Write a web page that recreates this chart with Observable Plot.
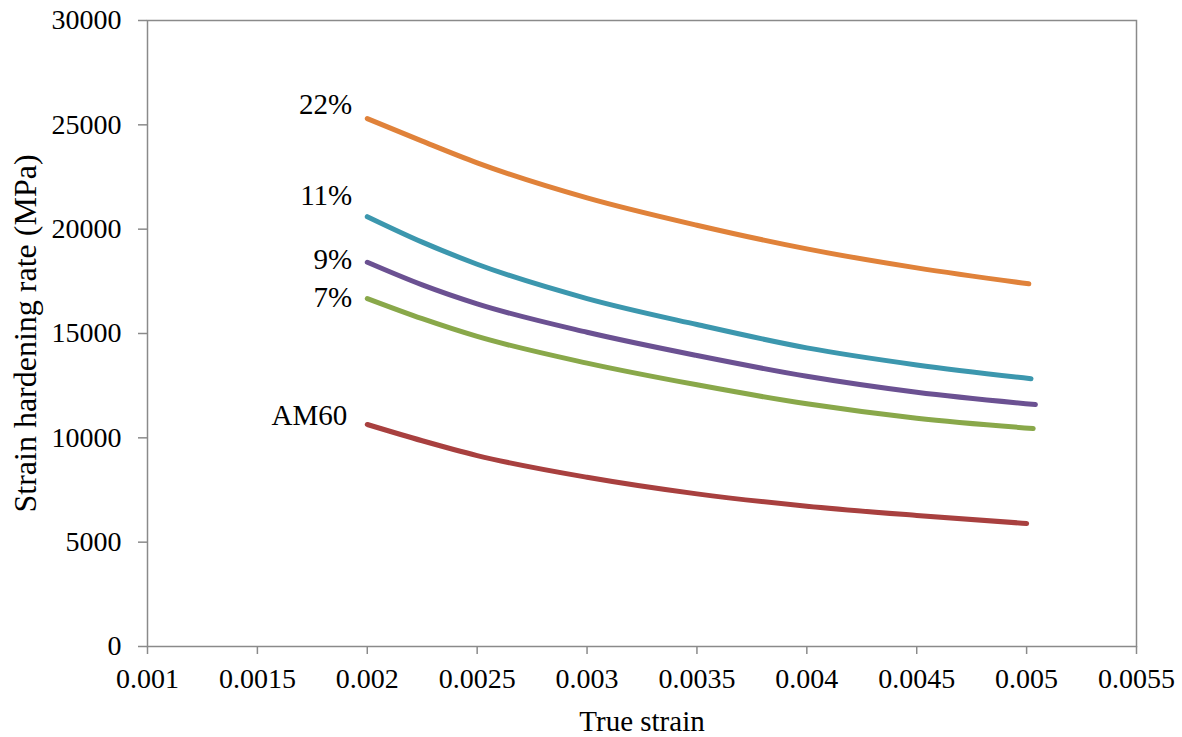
<!DOCTYPE html>
<html>
<head>
<meta charset="utf-8">
<script src="https://cdn.jsdelivr.net/npm/d3@7"></script>
<script src="https://cdn.jsdelivr.net/npm/@observablehq/plot@0.6"></script>
<style>
  html, body { margin: 0; padding: 0; background: #fff; }
  #chart svg { display: block; }
  #chart svg, #chart svg text { font-family: "Liberation Serif", "Times New Roman", serif !important; }
</style>
</head>
<body>
<div id="chart"></div>
<script>
// Strain hardening rate vs. true strain for AM60 and composites
const series = ["22%", "11%", "9%", "7%", "AM60"];
const seriesColors = ["#e0823a", "#3c97ae", "#6b5192", "#89a84a", "#a8403f"];

// sampled strains (shared), plus last strain of each curve
const strainPts = [0.002, 0.00225, 0.0025, 0.003, 0.0035, 0.004, 0.0045];
const finalStrain = [0.00501, 0.00502, 0.00504, 0.00503, 0.005];

// strain hardening rate (MPa) at strainPts, then at finalStrain
const rate22 = [25300, 24220, 23180, 21500, 20190, 19055, 18145, 17380];
const rate11 = [20600, 19380, 18320, 16675, 15430, 14310, 13495, 12830];
const rate9 = [18415, 17330, 16420, 15060, 13945, 12950, 12185, 11595];
const rate7 = [16675, 15710, 14860, 13580, 12540, 11630, 10940, 10445];
const rateAM60 = [10640, 9860, 9150, 8110, 7315, 6725, 6280, 5895];

const xTicks = [0.001, 0.0015, 0.002, 0.0025, 0.003, 0.0035, 0.004, 0.0045, 0.005, 0.0055];
const xTickLabels = ["0.001", "0.0015", "0.002", "0.0025", "0.003", "0.0035", "0.004", "0.0045", "0.005", "0.0055"];
const yTicks = [0, 5000, 10000, 15000, 20000, 25000, 30000];
const yTickLabels = ["0", "5000", "10000", "15000", "20000", "25000", "30000"];
const xTitle = "True strain";
const yTitle = "Strain hardening rate (MPa)";

const rates = [rate22, rate11, rate9, rate7, rateAM60];
const rows = [];
series.forEach((name, i) => {
  const xs = strainPts.concat([finalStrain[i]]);
  rates[i].forEach((v, j) => rows.push({series: name, strain: xs[j], rate: v}));
});
const starts = series.map((name, i) => ({series: name, strain: strainPts[0], rate: rates[i][0]}));

// label placement relative to each curve's first point (pixels)
const labelDx = [-15, -15, -15, -15, -20];
const labelDy = [-14, -21, -3, -1, -9];

const axisGray = "#8a8a8a";

const chart = Plot.plot({
  width: 1182,
  height: 737,
  marginLeft: 147,
  marginRight: 46,
  marginTop: 20,
  marginBottom: 91,
  style: {color: "#000", background: "#fff"},
  x: {domain: [0.001, 0.0055]},
  y: {domain: [0, 30000]},
  color: {domain: series, range: seriesColors},
  marks: [
    Plot.frame({stroke: axisGray, strokeWidth: 1.5}),
    Plot.axisX({
      ticks: xTicks,
      tickFormat: (d, i) => xTickLabels[i],
      tickSize: 8,
      tickPadding: 14,
      stroke: axisGray,
      strokeWidth: 1.5,
      fontSize: 28,
      label: null
    }),
    Plot.axisY({
      ticks: yTicks,
      tickFormat: (d, i) => yTickLabels[i],
      tickSize: 9,
      tickPadding: 17,
      stroke: axisGray,
      strokeWidth: 1.5,
      fontSize: 28,
      label: null
    }),
    // axis titles
    Plot.text([xTitle], {
      frameAnchor: "bottom",
      text: d => d,
      textAnchor: "middle",
      dy: 75,
      lineAnchor: "middle",
      fontSize: 29,
      fill: "#000"
    }),
    Plot.text([yTitle], {
      frameAnchor: "left",
      text: d => d,
      textAnchor: "middle",
      rotate: -90,
      dx: -122,
      lineAnchor: "middle",
      fontSize: 32,
      fill: "#000"
    }),
    Plot.line(rows, {
      x: "strain",
      y: "rate",
      z: "series",
      stroke: "series",
      strokeWidth: 5,
      strokeLinecap: "round",
      strokeLinejoin: "round",
      curve: "monotone-x"
    }),
    ...series.map((name, i) => Plot.text([starts[i]], {
      x: "strain",
      y: "rate",
      text: "series",
      textAnchor: "end",
      lineAnchor: "middle",
      dx: labelDx[i],
      dy: labelDy[i],
      fontSize: 29,
      fill: "#000"
    }))
  ]
});

document.getElementById("chart").appendChild(chart);
</script>
</body>
</html>
